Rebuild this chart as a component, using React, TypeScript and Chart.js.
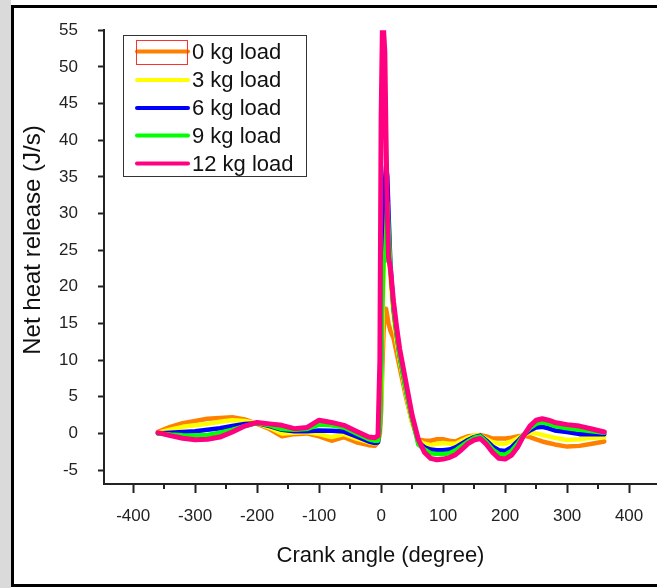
import { useEffect, useRef } from 'react';
import { Chart, registerables } from 'chart.js';

Chart.register(...registerables);

const ANGLES = [
  -360, -340, -320, -300, -280, -260, -240, -220, -200, -180, -160, -140, -120, -100, -80, -60, -40, -20, -10,
  -5, -2, 0, 2, 4, 6, 8, 10, 12, 15, 20, 25, 30, 40, 50, 60,
  70, 80, 90, 100, 110, 120, 130, 140, 150, 160, 170, 180, 190, 200, 210, 220, 230, 240, 250, 260, 270, 280, 300, 320, 340, 360,
];

const LOAD_0KG = [
  0.2, 0.9, 1.4, 1.7, 2.0, 2.1, 2.2, 1.9, 1.3, 0.6, -0.4, -0.1, 0.0, -0.4, -1.0, -0.5, -1.2, -1.6, -1.7,
  -1.2, 0, 3, 9, 14, 17, 17, 16, 15, 14, 13, 11, 9, 5, 1.5, -0.8,
  -1.0, -1.0, -0.8, -0.8, -1.0, -1.1, -0.7, -0.4, -0.3, -0.2, -0.4, -0.7, -0.7, -0.7, -0.6, -0.4, -0.3, -0.5, -0.8, -1.1, -1.3, -1.5, -1.8, -1.7, -1.4, -1.1,
];

const LOAD_3KG = [
  0.1, 0.5, 0.9, 1.1, 1.3, 1.6, 1.8, 1.7, 1.4, 0.8, 0.0, 0.1, 0.2, -0.1, -0.5, -0.1, -0.7, -1.2, -1.4,
  -1.0, 0.5, 5, 14, 22, 28, 31, 29, 25, 21, 16, 12.5, 10, 5.5, 1.5, -1.0,
  -1.4, -1.6, -1.4, -1.3, -1.4, -1.4, -1.0, -0.6, -0.3, -0.3, -0.8, -1.2, -1.4, -1.4, -1.1, -0.7, -0.2, 0.1, 0.0, -0.2, -0.4, -0.6, -0.9, -0.8, -0.6, -0.5,
];

const LOAD_6KG = [
  0.0, 0.1, 0.2, 0.3, 0.5, 0.7, 1.0, 1.3, 1.4, 1.0, 0.5, 0.3, 0.3, 0.4, 0.35, 0.25, -0.4, -1.1, -1.3,
  -1.2, 1, 10, 22, 30, 34, 36.5, 35, 30, 23, 17, 13.5, 10.5, 6, 2, -1.2,
  -1.9, -2.2, -2.3, -2.3, -2.2, -1.9, -1.4, -0.9, -0.5, -0.3, -1.0, -1.8, -2.3, -2.4, -1.9, -1.1, -0.2, 0.4, 0.8, 0.9, 0.7, 0.4, 0.2, -0.1, -0.1, -0.1,
];

const LOAD_9KG = [
  0.0, -0.15, -0.25, -0.3, -0.2, 0.1, 0.5, 1.0, 1.4, 1.1, 0.6, 0.5, 0.6, 1.2, 1.1, 0.8, 0.0, -0.8, -1.0,
  -1.0, 1, 8, 18, 23.5, 23.5, 27, 31.5, 28, 22.5, 17, 13.5, 10.5, 6, 2, -1.5,
  -2.2, -2.7, -2.8, -2.8, -2.7, -2.3, -1.7, -1.1, -0.6, -0.4, -1.2, -2.2, -2.8, -2.9, -2.4, -1.4, -0.2, 0.7, 1.3, 1.5, 1.3, 1.0, 0.7, 0.5, 0.3, 0.1,
];

const LOAD_12KG = [
  0.1, -0.3, -0.65, -0.85, -0.8, -0.5, 0.2, 1.0, 1.5, 1.3, 1.1, 0.65, 0.8, 1.8, 1.5, 1.1, 0.3, -0.5, -0.6,
  -0.3, 10, 43, 55, 55, 52, 40, 30, 24, 22.5, 18, 14.5, 11.5, 7, 2.5, -0.8,
  -2.6, -3.4, -3.6, -3.5, -3.3, -2.9, -2.2, -1.4, -0.9, -0.7, -1.5, -2.6, -3.4, -3.5, -3.0, -1.9, -0.3, 1.0, 1.8, 2.0, 1.8, 1.5, 1.2, 1.0, 0.6, 0.2,
];

const SERIES_LABELS = ['0 kg load', '3 kg load', '6 kg load', '9 kg load', '12 kg load'];
const SERIES_VALUES = [LOAD_0KG, LOAD_3KG, LOAD_6KG, LOAD_9KG, LOAD_12KG];
const SERIES_COLORS = ['#FF8000', '#FFFF00', '#0000FF', '#00FF00', '#FF0080'];

const X_MAJOR_TICKS = [-400, -300, -200, -100, 0, 100, 200, 300, 400];
const X_MINOR_TICKS = [-350, -250, -150, -50, 50, 150, 250, 350];
const Y_TICKS = [-5, 0, 5, 10, 15, 20, 25, 30, 35, 40, 45, 50, 55];

const X_TITLE = 'Crank angle (degree)';
const Y_TITLE = 'Net heat release (J/s)';

const FONT = '"Liberation Sans", Arial, sans-serif';
const AXIS_COLOR = '#222';

const decorPlugin = {
  id: 'decor',
  beforeDraw(chart: any) {
    const ctx = chart.ctx;
    ctx.save();
    ctx.fillStyle = '#ffffff';
    ctx.fillRect(0, 0, chart.width, chart.height);
    ctx.fillStyle = '#dadada';
    ctx.fillRect(0, 0, 11, chart.height);
    ctx.restore();
  },
  afterDraw(chart: any) {
    const ctx = chart.ctx;
    const xs = chart.scales.x;
    ctx.save();
    // minor x ticks
    ctx.strokeStyle = AXIS_COLOR;
    ctx.lineWidth = 2;
    X_MINOR_TICKS.forEach((v) => {
      const px = Math.round(xs.getPixelForValue(v));
      ctx.beginPath();
      ctx.moveTo(px, xs.top);
      ctx.lineTo(px, xs.top + 5);
      ctx.stroke();
    });

    // y title
    ctx.fillStyle = '#111';
    ctx.font = `24px ${FONT}`;
    ctx.textAlign = 'center';
    ctx.textBaseline = 'middle';
    ctx.translate(33, 240);
    ctx.rotate(-Math.PI / 2);
    ctx.fillText(Y_TITLE, 0, 0);
    ctx.setTransform(1, 0, 0, 1, 0, 0);

    // legend
    const bx = 123.5, by = 35.5, bw = 183, bh = 141;
    ctx.fillStyle = '#fff';
    ctx.fillRect(bx, by, bw, bh);
    ctx.strokeStyle = '#333';
    ctx.lineWidth = 1;
    ctx.strokeRect(bx, by, bw, bh);
    const rowY = [51.5, 80, 108, 135.5, 163.5];
    ctx.font = `22px ${FONT}`;
    ctx.textAlign = 'left';
    ctx.textBaseline = 'middle';
    chart.data.datasets.forEach((ds: any, i: number) => {
      const y = rowY[i];
      ctx.strokeStyle = ds.borderColor;
      ctx.lineWidth = 4;
      ctx.lineCap = 'round';
      ctx.beginPath();
      ctx.moveTo(137, y);
      ctx.lineTo(188, y);
      ctx.stroke();
      ctx.fillStyle = '#111';
      ctx.fillText(ds.label, 192, y + 1);
    });
    ctx.strokeStyle = '#ff3030';
    ctx.lineWidth = 1;
    ctx.lineCap = 'butt';
    ctx.strokeRect(136.5, 40.5, 51, 24);

    // outer frame
    ctx.fillStyle = '#000';
    ctx.fillRect(11, 5, chart.width - 11, 3);
    ctx.fillRect(11, 5, 3, 582);
    ctx.fillRect(11, 584, chart.width - 11, 3);
    ctx.restore();
  },
};

export default function App() {
  const canvasRef = useRef<HTMLCanvasElement | null>(null);

  useEffect(() => {
    const canvas = canvasRef.current;
    if (!canvas) return;
    const datasets = SERIES_LABELS.map((label, i) => ({
      label,
      data: ANGLES.map((a, j) => ({ x: a, y: SERIES_VALUES[i][j] })),
      borderColor: SERIES_COLORS[i],
      backgroundColor: SERIES_COLORS[i],
      borderWidth: i === 4 ? 5 : 4.5,
      pointRadius: 0,
      tension: 0,
      borderJoinStyle: 'round' as const,
      borderCapStyle: 'round' as const,
      fill: false,
      order: 4 - i,
    }));

    const chart = new Chart(canvas, {
      type: 'line',
      data: { datasets },
      options: {
        responsive: false,
        animation: false,
        devicePixelRatio: 1,
        layout: { padding: { top: 26, left: 0, right: 0, bottom: 0 } },
        plugins: {
          legend: { display: false },
          tooltip: { enabled: false },
          title: { display: false },
        },
        scales: {
          x: {
            type: 'linear',
            min: -447,
            max: 445,
            afterBuildTicks: (scale: any) => {
              scale.ticks = X_MAJOR_TICKS.map((v) => ({ value: v }));
            },
            afterFit: (scale: any) => {
              scale.height = 104;
            },
            grid: {
              display: true,
              drawOnChartArea: false,
              drawTicks: true,
              tickLength: 9,
              tickWidth: 2,
              tickColor: AXIS_COLOR,
            },
            border: { display: true, color: AXIS_COLOR, width: 2 },
            ticks: {
              autoSkip: false,
              maxRotation: 0,
              padding: 13,
              color: '#222',
              font: { family: FONT, size: 17 },
              callback: (v: any) => String(v),
            },
            title: {
              display: true,
              text: X_TITLE,
              color: '#111',
              font: { family: FONT, size: 22 },
              padding: { top: 0, bottom: 19 },
            },
          },
          y: {
            type: 'linear',
            min: -6.9,
            max: 55,
            afterBuildTicks: (scale: any) => {
              scale.ticks = Y_TICKS.map((v) => ({ value: v }));
            },
            afterFit: (scale: any) => {
              scale.width = 104;
            },
            grid: {
              display: true,
              drawOnChartArea: false,
              drawTicks: true,
              tickLength: 6,
              tickWidth: 2,
              tickColor: AXIS_COLOR,
            },
            border: { display: true, color: AXIS_COLOR, width: 2 },
            ticks: {
              autoSkip: false,
              padding: 20,
              color: '#222',
              font: { family: FONT, size: 17 },
              callback: (v: any) => String(v),
            },
          },
        },
      },
      plugins: [decorPlugin],
    });
    return () => chart.destroy();
  }, []);

  return (
    <div style={{ position: 'absolute', left: 0, top: 0, width: 657, height: 588, background: '#fff' }}>
      <canvas ref={canvasRef} width={657} height={588} style={{ display: 'block', width: 657, height: 588 }} />
    </div>
  );
}
